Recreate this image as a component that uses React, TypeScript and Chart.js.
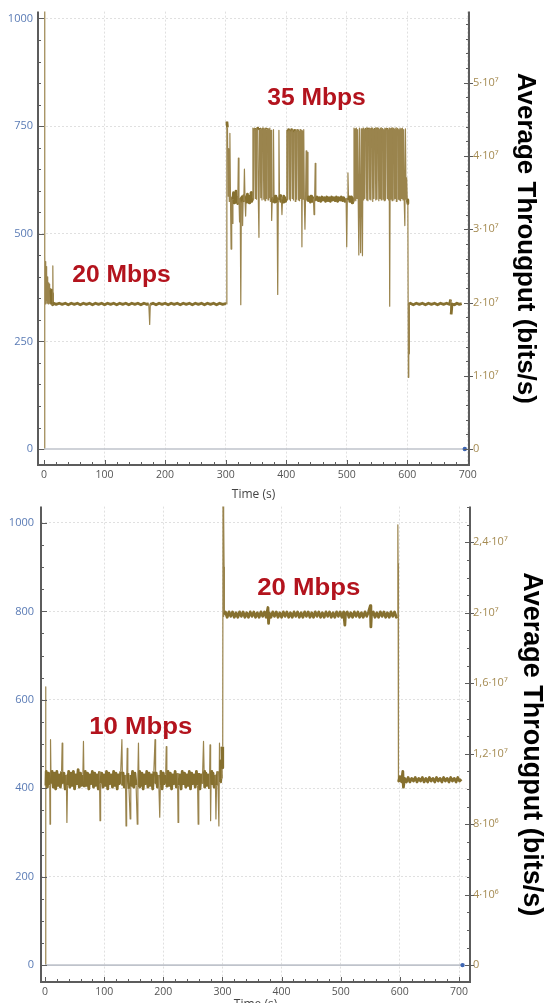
import React, { useEffect, useRef } from 'react';
import { Chart, registerables } from 'chart.js';

Chart.register(...registerables);

// ---------------- TOP CHART (time s, throughput Mbps) ----------------
const topPhase1: [number, number][] = [
  [0, 0], [0.8, 80], [1.5, 26.5], [2, 20.0], [2.5, 25.6], [3, 19.8], [3.5, 24.9], [4, 20.3], [4.5, 24.1],
  [5, 19.9], [5.5, 23.5], [6, 20.1], [6.5, 23.0], [7, 19.8], [7.5, 22.7], [8, 20.2], [8.5, 22.5], [9, 19.9],
  [9.5, 22.2], [10, 20.0], [10.5, 21.9], [11, 19.8], [11.5, 21.7], [12, 20.1], [12.5, 21.4], [13, 19.9],
  [13.5, 21.2], [14, 19.7], [14.5, 25.0], [15, 19.8],
  [16, 19.9], [20, 19.75], [25, 19.9], [30, 19.75], [35, 19.9], [40, 19.7], [45, 19.9], [50, 19.75], [55, 19.9],
  [60, 19.7], [65, 19.9], [70, 19.75], [75, 19.9], [80, 19.7], [85, 19.9], [90, 19.75], [95, 19.9], [100, 19.7],
  [105, 19.9], [110, 19.75], [115, 19.9], [120, 19.7], [125, 19.9], [130, 19.75], [135, 19.9], [140, 19.7],
  [145, 19.9], [150, 19.75], [155, 19.9], [160, 19.7], [165, 19.9], [170, 19.75], [173, 19.85], [174.5, 17.0],
  [175.5, 19.75], [180, 19.9], [185, 19.7], [190, 19.9], [195, 19.75], [200, 19.9], [205, 19.7], [210, 19.9],
  [215, 19.75], [220, 19.9], [225, 19.7], [230, 19.9], [235, 19.75], [240, 19.9], [245, 19.7], [250, 19.9],
  [255, 19.75], [260, 19.9], [265, 19.7], [270, 19.9], [275, 19.75], [280, 19.9], [285, 19.7], [290, 19.9],
  [295, 19.75], [300, 19.85],
];

const topPhase2: [number, number][] = [
  [301, 19.8], [302, 44.7], [303, 43.9], [304, 34.5], [305, 41.0], [306, 33.8], [307, 43.1], [308, 34.2],
  [309, 27.3], [310, 34.4], [311, 30.8], [312, 34.0], [313, 35.0], [314, 33.6], [315, 34.6], [316, 33.9],
  [317, 35.2], [318, 33.7], [319, 34.3], [320, 33.5], [321, 39.7], [322, 34.1], [323, 31.0], [324, 34.2],
  [325, 19.7], [326, 34.4], [327, 33.8], [328, 30.5], [329, 34.6], [330, 33.9], [331, 38.2], [332, 34.0],
  [333, 31.8], [334, 34.5], [335, 33.7], [336, 34.8], [337, 33.9], [338, 34.4], [339, 33.6], [340, 34.5],
  [341, 34.0], [342, 35.0], [343, 33.8], [344, 34.3],
  [345, 43.8], [346, 34.0], [347, 43.7], [348, 43.8], [349, 34.2], [350, 43.6], [351, 34.1], [352, 43.8],
  [353, 43.7], [354, 34.0], [355, 28.9], [356, 43.8], [357, 43.6], [358, 34.3], [359, 43.7], [360, 34.0],
  [361, 43.8], [362, 43.8], [363, 34.1], [364, 43.7], [365, 33.9], [366, 43.8], [367, 34.2], [368, 43.6],
  [369, 43.8], [370, 34.0], [371, 43.7], [372, 34.3], [373, 43.8], [374, 33.8], [375, 43.5], [376, 31.2],
  [377, 34.2], [378, 33.8], [379, 43.6], [380, 34.1], [381, 33.7], [382, 34.5], [383, 33.9], [384, 34.3],
  [385, 33.6], [386, 21.1], [387, 34.2], [388, 43.5], [389, 34.0], [390, 34.6], [391, 33.8], [392, 34.4],
  [393, 32.0], [394, 34.1], [395, 33.7], [396, 34.5], [397, 33.9], [398, 34.3], [399, 33.8], [400, 34.2],
  [401, 43.5], [402, 34.0], [403, 43.6], [404, 43.5], [405, 34.1], [406, 43.4], [407, 33.9], [408, 43.6],
  [409, 43.5], [410, 34.2], [411, 43.6], [412, 34.0], [413, 43.5], [414, 43.4], [415, 33.8], [416, 43.6],
  [417, 34.1], [418, 43.5], [419, 43.6], [420, 34.0], [421, 43.4], [422, 33.9], [423, 43.6], [424, 34.2],
  [425, 43.5], [426, 27.6], [427, 43.4], [428, 34.1], [429, 43.6], [430, 33.8], [431, 30.0],
  [432, 34.3], [433, 40.7], [434, 34.0], [435, 40.5], [436, 33.8], [437, 34.4], [438, 33.9], [439, 34.2],
  [440, 33.7], [441, 34.5], [442, 34.0], [443, 34.3], [444, 33.8], [445, 34.2], [446, 32.0], [447, 34.1],
  [448, 39.0], [449, 33.9],
  [451, 34.4], [453, 33.9], [455, 34.3], [457, 33.8], [459, 34.4], [461, 34.0], [463, 34.3], [465, 33.8],
  [467, 34.4], [469, 33.9], [471, 34.3], [473, 33.8], [475, 34.4], [477, 34.0], [479, 34.3], [481, 33.9],
  [483, 34.4], [485, 33.8], [487, 34.3], [489, 34.0], [491, 34.4], [493, 33.9], [495, 34.3], [497, 33.8],
  [499, 34.2],
  [500, 27.6], [501, 34.1], [502, 37.7], [503, 34.0], [504, 34.4], [505, 33.8], [506, 34.3], [507, 33.9],
  [508, 34.4], [509, 33.6], [510, 34.2], [511, 33.8],
  [512, 43.8], [513, 34.0], [514, 43.7], [515, 33.9], [516, 43.8], [517, 34.2], [518, 43.6], [519, 34.0],
  [520, 26.5], [521, 43.8], [522, 33.8], [523, 26.8], [524, 43.7], [525, 34.1], [526, 26.4], [527, 43.8],
  [528, 34.0], [529, 43.6], [530, 34.2], [531, 43.8], [532, 43.7], [533, 34.0], [534, 43.8], [535, 33.9],
  [536, 43.6], [537, 43.8], [538, 34.1], [539, 43.7], [540, 34.0], [541, 43.8], [542, 43.8], [543, 33.8],
  [544, 43.6], [545, 34.2], [546, 43.8], [547, 43.7], [548, 34.0], [549, 43.8], [550, 34.1], [551, 43.7],
  [552, 43.8], [553, 33.9], [554, 43.6], [555, 34.2], [556, 43.8], [557, 34.0], [558, 43.7], [559, 43.8],
  [560, 34.1], [561, 43.6], [562, 33.9], [563, 43.8], [564, 34.0], [565, 43.7], [566, 43.8], [567, 34.2],
  [568, 43.6], [569, 34.0], [570, 43.8], [571, 19.5], [572, 43.7], [573, 34.1], [574, 43.8], [575, 33.9],
  [576, 43.7], [577, 43.8], [578, 34.0], [579, 43.6], [580, 34.2], [581, 43.8], [582, 33.8], [583, 43.7],
  [584, 43.8], [585, 34.1], [586, 43.6], [587, 34.0], [588, 43.8], [589, 33.9], [590, 43.7], [591, 34.2],
  [592, 43.8], [593, 34.0], [594, 43.6], [595, 33.8], [596, 30.5], [597, 43.7], [598, 34.1], [599, 37.0],
  [600, 34.0], [601, 33.5], [601.8, 9.8], [602.5, 19.9], [603, 13.0], [603.5, 19.8],
];

const topPhase3: [number, number][] = [
  [605, 19.9], [610, 19.7], [615, 19.9], [620, 19.75], [625, 19.9], [630, 19.7], [635, 19.9], [640, 19.75],
  [645, 19.9], [650, 19.7], [655, 19.9], [660, 19.75], [665, 19.9], [670, 19.75], [671.5, 20.4], [672.5, 18.4],
  [674, 19.8], [678, 19.7], [682, 19.9], [686, 19.75], [690, 19.85],
];

const topZero: [number, number][] = [[0, 0], [695, 0]];
const topXTicks = [0, 100, 200, 300, 400, 500, 600, 700];
const topLeftTicks = [0, 250, 500, 750, 1000];
const topRightTicks = [0, 10, 20, 30, 40, 50];
const topRightLabels = ['0', '1·10⁷', '2·10⁷', '3·10⁷', '4·10⁷', '5·10⁷'];
const topNotes = [
  { text: '20 Mbps', t: 128, v: 23.6 },
  { text: '35 Mbps', t: 450, v: 47.8 },
];

// ---------------- BOTTOM CHART ----------------
const bottomPhase1: [number, number][] = [
  [0, 0], [1, 15.8], [1.5, 10.2], [2, 11.0], [4, 10.1], [6, 10.9], [8, 10.2], [8.5, 8.0], [9, 10.8],
  [9.6, 12.8], [10.2, 10.3], [12, 11.0], [14, 10.1], [16, 10.9], [18, 10.0], [20, 11.0], [22, 10.2],
  [24, 10.8], [26, 10.1], [28, 11.0], [29, 12.6], [30, 10.3], [32, 10.9], [34, 10.0], [36, 10.8], [37, 8.1],
  [38, 10.2], [40, 11.0], [42, 10.1], [44, 10.9], [46, 10.2], [48, 11.0], [50, 10.0], [52, 10.8], [54, 10.3],
  [56, 11.1], [58, 10.1], [60, 10.9], [62, 10.2], [64, 10.8], [65, 12.7], [66, 10.1], [68, 11.0], [70, 10.2],
  [72, 10.9], [74, 10.0], [76, 10.8], [78, 10.3], [80, 11.0], [82, 10.1], [84, 10.9], [86, 10.2], [88, 10.8],
  [90, 10.0], [92, 11.0], [93, 8.2], [94, 10.3], [96, 10.9], [98, 10.1], [100, 10.8], [102, 10.2],
  [104, 11.0], [106, 10.0], [108, 10.9], [110, 10.3], [112, 10.8], [114, 10.1], [116, 11.0], [118, 10.2],
  [120, 10.9], [122, 10.0], [124, 10.8], [126, 10.3], [128, 11.0], [130, 12.8], [131, 10.2], [132, 10.9],
  [134, 10.1], [136, 10.8], [137, 7.9], [138, 10.3], [139, 12.3], [140, 10.9], [142, 10.0], [144, 8.3],
  [145, 10.8], [146, 10.2], [148, 11.0], [150, 10.1], [152, 10.9], [154, 10.2], [156, 8.0], [157, 10.8],
  [158, 12.6], [159, 10.1], [160, 11.0], [162, 10.2], [164, 10.9], [166, 10.0], [168, 10.8], [170, 10.3],
  [172, 11.0], [174, 10.1], [176, 10.9], [178, 10.2], [180, 10.8], [182, 10.0], [184, 11.0], [186, 12.8],
  [187, 10.3], [188, 10.9], [190, 10.1], [192, 10.8], [194, 8.4], [195, 10.2], [196, 11.0], [198, 10.0],
  [200, 10.9], [202, 10.3], [204, 10.8], [205, 12.4], [206, 10.1], [208, 11.0], [210, 10.2], [212, 10.9],
  [214, 10.0], [216, 10.8], [218, 10.3], [220, 11.0], [222, 10.1], [224, 10.9], [225, 8.1], [226, 10.2],
  [228, 10.8], [230, 10.0], [232, 11.0], [234, 10.3], [236, 10.9], [238, 10.1], [240, 10.8], [242, 10.2],
  [244, 11.0], [246, 10.0], [248, 10.9], [250, 10.3], [252, 10.8], [254, 10.1], [256, 11.0], [258, 10.2],
  [259, 8.0], [260, 10.9], [262, 10.0], [264, 10.8], [266, 10.3], [268, 12.7], [269, 11.0], [270, 10.1],
  [272, 10.9], [274, 10.2], [276, 10.8], [278, 10.0], [279, 12.5], [280, 8.2], [281, 11.0], [282, 10.3],
  [284, 10.9], [286, 10.1], [288, 10.8], [289, 8.3], [290, 10.2], [292, 11.0], [294, 7.9], [295, 12.6],
  [296, 10.4], [297, 11.6], [298, 10.6], [299, 12.4], [300, 11.2],
];

const bottomPhase2: [number, number][] = [
  [300.5, 12.4], [301, 27.5], [301.8, 19.8], [302.3, 25.5], [302.8, 22.6], [303.3, 19.9],
  [305, 20.05], [308, 19.75], [311, 20.05], [314, 19.8], [317, 20.05], [320, 19.75], [323, 20.0], [326, 19.75],
  [329, 20.05], [332, 19.8], [335, 20.05], [338, 19.75], [341, 20.0], [344, 19.75], [347, 20.05], [350, 19.8],
  [353, 20.05], [356, 19.75], [359, 20.0], [362, 19.75], [365, 20.05], [368, 19.8], [371, 20.05], [374, 19.75],
  [377, 20.3], [378, 19.4], [379, 20.0], [382, 19.75], [385, 20.05], [388, 19.8], [391, 20.05], [394, 19.75],
  [397, 20.0], [400, 19.75], [403, 20.05], [406, 19.8], [409, 20.05], [412, 19.75], [415, 20.0], [418, 19.75],
  [421, 20.05], [424, 19.8], [427, 20.05], [430, 19.75], [433, 20.0], [436, 19.75], [439, 20.05], [442, 19.8],
  [445, 20.05], [448, 19.75], [451, 20.0], [454, 19.75], [457, 20.05], [460, 19.8], [463, 20.05], [466, 19.75],
  [469, 20.0], [472, 19.75], [475, 20.05], [478, 19.8], [481, 20.05], [484, 19.75], [487, 20.0], [490, 19.75],
  [493, 20.05], [496, 19.8], [499, 20.05], [502, 19.75], [505, 20.05], [507, 19.3], [508, 19.9], [511, 20.05],
  [514, 19.75], [517, 20.0], [520, 19.75], [523, 20.05], [526, 19.8], [529, 20.05], [532, 19.75], [535, 20.0],
  [538, 19.75], [541, 20.05], [544, 19.8], [547, 20.05], [550, 20.4], [551, 19.2], [552, 19.9], [555, 20.05],
  [558, 19.75], [561, 20.0], [564, 19.75], [567, 20.05], [570, 19.8], [573, 20.05], [576, 19.75], [579, 20.0],
  [582, 19.75], [585, 20.05], [588, 19.8], [591, 20.05], [594, 19.75],
  [596, 19.8], [596.6, 25.0], [597, 22.8], [597.4, 20.0], [597.8, 10.4],
];

const bottomPhase3: [number, number][] = [
  [600, 10.7], [603, 10.4], [605, 11.0], [606, 10.1], [608, 10.6], [611, 10.4], [614, 10.65], [617, 10.4],
  [620, 10.6], [623, 10.45], [626, 10.65], [629, 10.4], [632, 10.6], [635, 10.45], [638, 10.65], [641, 10.4],
  [644, 10.6], [647, 10.4], [650, 10.65], [653, 10.45], [656, 10.6], [659, 10.4], [662, 10.65], [665, 10.45],
  [668, 10.6], [671, 10.4], [674, 10.65], [677, 10.45], [680, 10.6], [683, 10.4], [686, 10.65], [689, 10.45],
  [692, 10.6], [695, 10.4], [698, 10.65], [701, 10.45], [704, 10.55],
];

const bottomZero: [number, number][] = [[0, 0], [706, 0]];
const bottomXTicks = [0, 100, 200, 300, 400, 500, 600, 700];
const bottomLeftTicks = [0, 200, 400, 600, 800, 1000];
const bottomRightTicks = [0, 4, 8, 12, 16, 20, 24];
const bottomRightLabels = ['0', '4·10⁶', '8·10⁶', '1,2·10⁷', '1,6·10⁷', '2·10⁷', '2,4·10⁷'];
const bottomNotes = [
  { text: '10 Mbps', t: 162, v: 13.5 },
  { text: '20 Mbps', t: 446, v: 21.35 },
];

type Spec = {
  series: [number, number][];
  zero: [number, number][];
  xMin: number; xMax: number;
  lMin: number; lMax: number;
  rMin: number; rMax: number;
  xTicks: number[]; leftTicks: number[]; rightTicks: number[]; rightLabels: string[];
  xMinor: number; lMinor: number; rMinor: number;
  notes: { text: string; t: number; v: number }[];
  padTop: number; leftW: number; rightW: number; xH: number;
  leftPad: number; rightPad: number;
  titleSize: number; titlePad: number;
  noteSize: number; noteStretch: number;
  flatPx: number; thickW: number; thinW: number;
};

const topSpec: Spec = {
  series: [...topPhase1, ...topPhase2, ...topPhase3],
  zero: topZero,
  xMin: -10, xMax: 702, lMin: -37, lMax: 1016, rMin: -2.17, rMax: 59.7,
  xTicks: topXTicks, leftTicks: topLeftTicks, rightTicks: topRightTicks, rightLabels: topRightLabels,
  xMinor: 20, lMinor: 50, rMinor: 2,
  notes: topNotes,
  padTop: 7, leftW: 38, rightW: 77, xH: 38, leftPad: 5, rightPad: 4,
  titleSize: 26, titlePad: 8, noteSize: 23, noteStretch: 1.07,
  flatPx: 12, thickW: 2.8, thinW: 1.2,
};

const bottomSpec: Spec = {
  series: [...bottomPhase1, ...bottomPhase2, ...bottomPhase3],
  zero: bottomZero,
  xMin: -6.8, xMax: 718.6, lMin: -38.2, lMax: 1037, rMin: -0.958, rMax: 26.03,
  xTicks: bottomXTicks, leftTicks: bottomLeftTicks, rightTicks: bottomRightTicks, rightLabels: bottomRightLabels,
  xMinor: 20, lMinor: 50, rMinor: 1,
  notes: bottomNotes,
  padTop: 10, leftW: 41, rightW: 76, xH: 31, leftPad: 7, rightPad: 3,
  titleSize: 27, titlePad: 1, noteSize: 23, noteStretch: 1.12,
  flatPx: 24, thickW: 2.8, thinW: 1.2,
};

function axesPlugin(s: Spec) {
  return {
    id: 'axesTicks',
    afterDraw(chart: any) {
      const { ctx, chartArea } = chart;
      const { left, right, top, bottom } = chartArea;
      const sx = chart.scales.x, sl = chart.scales.yL, sr = chart.scales.yR;
      const minorVals = (scale: any, step: number) => {
        const out: number[] = [];
        for (let v = Math.ceil(scale.min / step) * step; v <= scale.max + 1e-9; v += step) out.push(v);
        return out;
      };
      ctx.save();
      ctx.strokeStyle = '#5c5c5c';
      ctx.lineWidth = 1;
      ctx.beginPath();
      for (const v of minorVals(sx, s.xMinor)) {
        const p = Math.round(sx.getPixelForValue(v)) + 0.5;
        ctx.moveTo(p, bottom); ctx.lineTo(p, bottom - 3);
      }
      for (const t of sx.ticks) {
        const p = Math.round(sx.getPixelForValue(t.value)) + 0.5;
        ctx.moveTo(p, bottom + 1); ctx.lineTo(p, bottom - 5);
      }
      for (const v of minorVals(sl, s.lMinor)) {
        const p = Math.round(sl.getPixelForValue(v)) + 0.5;
        ctx.moveTo(left, p); ctx.lineTo(left + 3, p);
      }
      for (const t of sl.ticks) {
        const p = Math.round(sl.getPixelForValue(t.value)) + 0.5;
        ctx.moveTo(left - 1, p); ctx.lineTo(left + 6, p);
      }
      for (const v of minorVals(sr, s.rMinor)) {
        const p = Math.round(sr.getPixelForValue(v)) + 0.5;
        ctx.moveTo(right, p); ctx.lineTo(right - 3, p);
      }
      for (const t of sr.ticks) {
        const p = Math.round(sr.getPixelForValue(t.value)) + 0.5;
        ctx.moveTo(right + 4, p); ctx.lineTo(right - 5, p);
      }
      ctx.stroke();
      ctx.lineWidth = 2;
      ctx.beginPath();
      ctx.moveTo(left, top); ctx.lineTo(left, bottom);
      ctx.moveTo(left - 1, bottom); ctx.lineTo(right + 1, bottom);
      ctx.moveTo(right, top); ctx.lineTo(right, bottom);
      ctx.stroke();
      ctx.restore();
    },
  };
}

function notesPlugin(s: Spec) {
  return {
    id: 'notes',
    afterDatasetsDraw(chart: any) {
      const { ctx } = chart;
      const sx = chart.scales.x, sr = chart.scales.yR;
      ctx.save();
      ctx.fillStyle = '#b3131d';
      ctx.font = `bold ${s.noteSize}px "Liberation Sans", Arial, sans-serif`;
      ctx.textAlign = 'center';
      ctx.textBaseline = 'middle';
      for (const n of s.notes) {
        const x = sx.getPixelForValue(n.t);
        const y = sr.getPixelForValue(n.v);
        ctx.save();
        ctx.translate(x, y);
        ctx.scale(s.noteStretch, 1);
        ctx.fillText(n.text, 0, 0);
        ctx.restore();
      }
      ctx.restore();
    },
  };
}

function buildConfig(s: Spec): any {
  const main = s.series.map(([x, y]) => ({ x, y }));
  const zero = s.zero.map(([x, y]) => ({ x, y }));
  const gridColor = (c: any) => (c.tick && c.tick.value === 0 ? 'rgba(0,0,0,0)' : '#e0e0e0');
  const isFlat = (c: any) => Math.abs(c.p1.y - c.p0.y) < s.flatPx;
  return {
    type: 'line',
    data: {
      datasets: [
        {
          data: zero, xAxisID: 'x', yAxisID: 'yL',
          borderColor: '#bfc3cb', borderWidth: 1.6,
          pointRadius: (c: any) => (c.dataIndex === zero.length - 1 ? 2.2 : 0),
          pointBackgroundColor: '#3e66b3', pointBorderWidth: 0,
        },
        {
          data: main, xAxisID: 'x', yAxisID: 'yR',
          borderColor: '#87702f', borderWidth: s.thinW, pointRadius: 0, tension: 0,
          borderJoinStyle: 'round',
          segment: {
            borderWidth: (c: any) => (isFlat(c) ? s.thickW : s.thinW),
            borderColor: (c: any) => (isFlat(c) ? '#86702f' : '#9a844d'),
          },
        },
      ],
    },
    options: {
      animation: false,
      responsive: false,
      events: [],
      layout: { padding: { top: s.padTop, left: 0, right: 0, bottom: 0 } },
      plugins: { legend: { display: false }, tooltip: { enabled: false } },
      scales: {
        x: {
          type: 'linear', position: 'bottom', min: s.xMin, max: s.xMax,
          afterBuildTicks: (sc: any) => { sc.ticks = s.xTicks.map((v) => ({ value: v })); },
          afterFit: (sc: any) => { sc.height = s.xH; },
          grid: { color: gridColor, lineWidth: 1, drawTicks: false },
          border: { display: false, dash: [2, 2] },
          ticks: {
            padding: 4, color: '#555', maxRotation: 0, autoSkip: false,
            font: { family: 'Open Sans', size: 10.5 },
            callback: (v: any) => String(v),
          },
          title: {
            display: true, text: 'Time (s)', color: '#444',
            font: { family: 'Open Sans', size: 12 }, padding: { top: 0, bottom: 1 },
          },
        },
        yL: {
          type: 'linear', position: 'left', min: s.lMin, max: s.lMax,
          afterBuildTicks: (sc: any) => { sc.ticks = s.leftTicks.map((v) => ({ value: v })); },
          afterFit: (sc: any) => { sc.width = s.leftW; },
          grid: { color: gridColor, lineWidth: 1, drawTicks: false },
          border: { display: false, dash: [2, 2] },
          ticks: {
            padding: s.leftPad, color: '#5a7bb5',
            font: { family: 'Open Sans', size: 11 },
            callback: (v: any) => String(v),
          },
        },
        yR: {
          type: 'linear', position: 'right', min: s.rMin, max: s.rMax,
          afterBuildTicks: (sc: any) => { sc.ticks = s.rightTicks.map((v) => ({ value: v })); },
          afterFit: (sc: any) => { sc.width = s.rightW; },
          grid: { display: false, drawTicks: false },
          border: { display: false },
          ticks: {
            padding: s.rightPad, color: '#a58b52',
            font: { family: 'Open Sans', size: 11 },
            callback: (_v: any, i: number) => s.rightLabels[i],
          },
          title: {
            display: true, text: 'Average Througput (bits/s)', color: '#000',
            font: { family: 'Liberation Sans', size: s.titleSize, weight: 'bold', lineHeight: 1 },
            padding: { top: s.titlePad, bottom: 0 },
          },
        },
      },
    },
    plugins: [axesPlugin(s), notesPlugin(s)],
  };
}

function ThroughputChart({ spec, top, height }: { spec: Spec; top: number; height: number }) {
  const ref = useRef<HTMLCanvasElement>(null);
  useEffect(() => {
    const chart = new Chart(ref.current as HTMLCanvasElement, buildConfig(spec));
    return () => chart.destroy();
  }, [spec]);
  return (
    <canvas
      ref={ref}
      width={546}
      height={height}
      style={{ position: 'absolute', left: 0, top, width: 546, height }}
    />
  );
}

export default function App() {
  return (
    <div
      style={{
        position: 'fixed', left: 0, top: 0, width: 546, height: 1003,
        overflow: 'hidden', background: '#fff',
      }}
    >
      <ThroughputChart spec={topSpec} top={0} height={503} />
      <ThroughputChart spec={bottomSpec} top={493} height={520} />
    </div>
  );
}
